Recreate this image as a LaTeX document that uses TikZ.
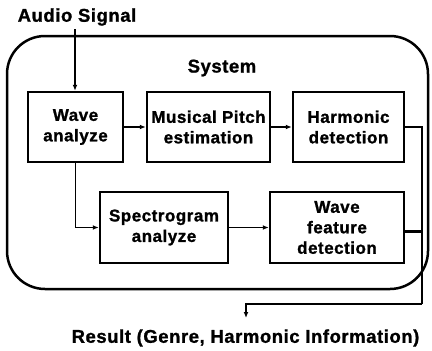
\documentclass[tikz,border=0pt]{standalone}
\usepackage{fontspec}
\setmainfont{Liberation Sans}[LetterSpace=3,BoldFeatures={FakeBold=1.2}]
\usetikzlibrary{arrows.meta}
\begin{document}
\begin{tikzpicture}[x=1pt,y=-1pt,
  box/.style={draw,line width=2.5pt,minimum height=70pt,align=center,
    font=\fontsize{17}{20.5}\selectfont\bfseries,inner sep=0pt},
  conn/.style={line width=1.8pt,-{Latex[length=6pt,width=5pt]}},
  wire/.style={line width=2.6pt},
  lbl/.style={font=\fontsize{18.5}{21}\selectfont\bfseries,inner sep=0pt}]
\useasboundingbox (0,0) rectangle (432,351);
\draw[line width=2.5pt, rounded corners=38pt] (7,36) rectangle (428,289);
\node[lbl] (sys) at (222,68) {System};
\node[lbl] (audio) at (77,17) {Audio Signal};
\node[lbl] (res) at (245.5,338) {Result (Genre, Harmonic Information)};
\node[box,minimum width=95pt] (wave) at (75.5,127) {Wave\\analyze};
\node[box,minimum width=123pt] (pitch) at (208.5,127) {Musical Pitch\\estimation};
\node[box,minimum width=111pt] (harm) at (348.5,127) {Harmonic\\detection};
\node[box,minimum width=128pt,minimum height=71pt] (spec) at (164,227.5) {Spectrogram\\analyze};
\node[box,minimum width=134pt,minimum height=71pt] (feat) at (337,227.5) {Wave\\feature\\detection};
\coordinate (ain) at (75,29);
\coordinate (rc) at (422,304);
\coordinate (rturn) at (246,304);
\coordinate (rend) at (246,318);
\draw[conn] (ain) -- (ain |- wave.north);
\draw[conn] (wave) -- (pitch);
\draw[conn] (pitch) -- (harm);
\draw[conn] (wave.south) |- (spec.west);
\draw[conn] (spec) -- (feat);
\draw[wire] ([yshift=-4pt]feat.east) -- ([yshift=-4pt]feat.east -| rc);
\draw[wire] (harm.east) -| (rc);
\draw[conn] (rc) -- (rturn) -- (rend);
\end{tikzpicture}
\end{document}
